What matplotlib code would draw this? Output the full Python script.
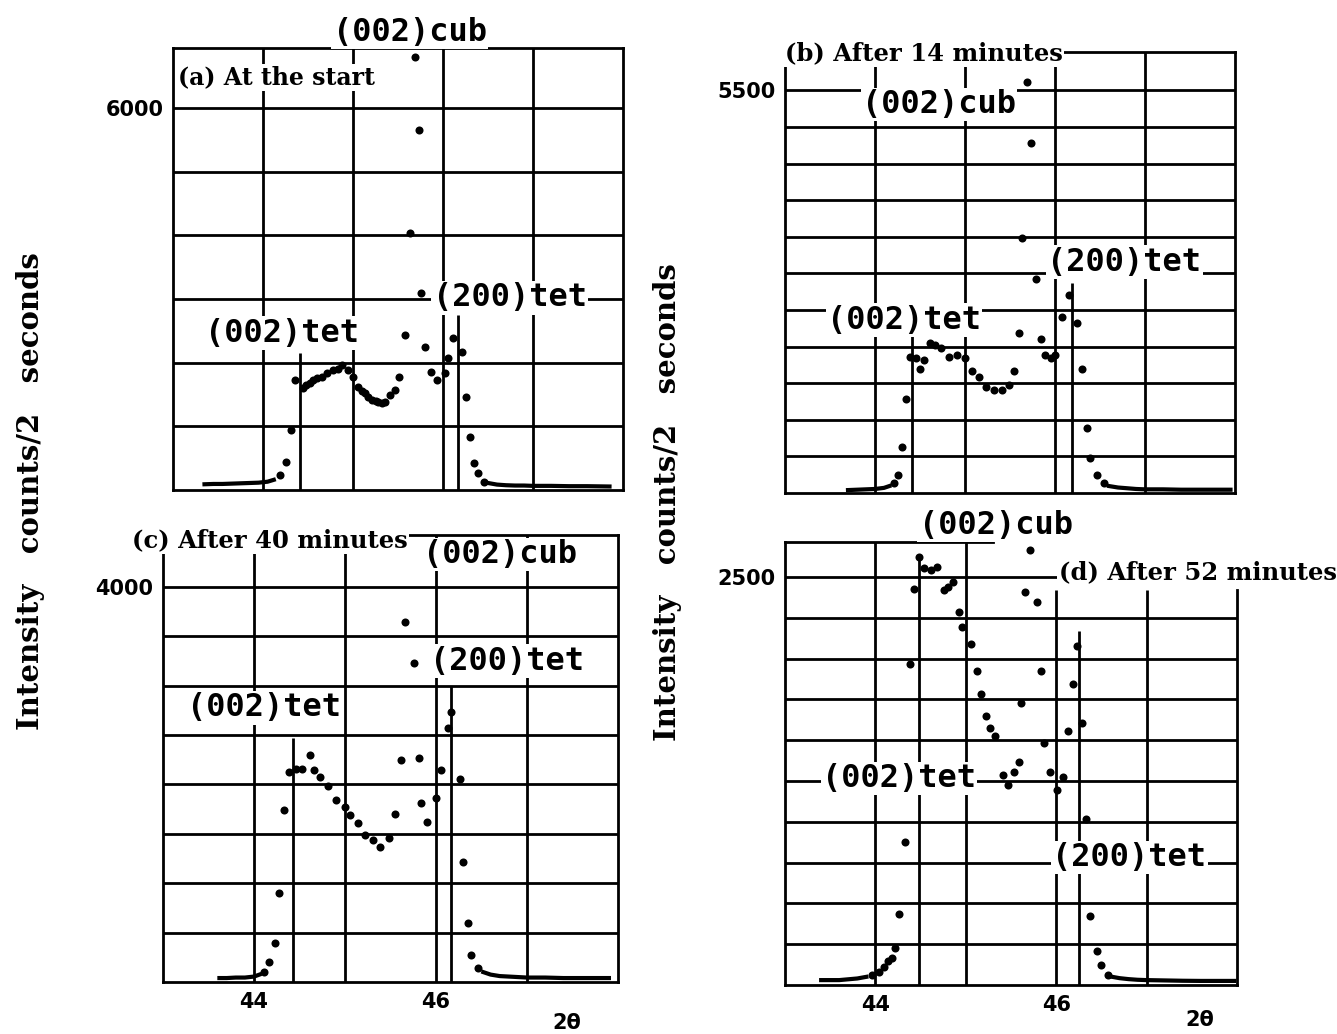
import numpy as np
import matplotlib.pyplot as plt

# ---- data (2theta in degrees, counts / 2 s) ----
# (a) at the start
a_left_x = [43.35, 43.45, 43.55, 43.65, 43.75, 43.85, 43.95, 44.05, 44.12]
a_left_y = [90, 95, 95, 100, 105, 110, 115, 130, 160]
a_peak_x = [44.19, 44.26, 44.31, 44.36, 44.44, 44.48, 44.52, 44.56, 44.60, 44.65,
            44.71, 44.78, 44.83, 44.88, 44.94, 45.00, 45.06, 45.10, 45.13, 45.17,
            45.21, 45.25, 45.28, 45.32, 45.36, 45.41, 45.47, 45.51, 45.58, 45.63,
            45.69, 45.73, 45.76, 45.80, 45.87, 45.93, 46.02, 46.06, 46.11, 46.21,
            46.25, 46.30, 46.34, 46.39, 46.45]
a_peak_y = [235, 440, 940, 1730, 1600, 1650, 1680, 1720, 1760, 1780,
            1840, 1880, 1900, 1960, 1880, 1780, 1620, 1560, 1520, 1460,
            1410, 1390, 1380, 1370, 1380, 1490, 1570, 1780, 2430, 4030,
            6800, 5650, 3090, 2250, 1860, 1730, 1830, 2070, 2380, 2170,
            1460, 840, 420, 260, 130]
a_right_x = [46.50, 46.60, 46.70, 46.80, 46.90, 47.00, 47.20, 47.40, 47.60, 47.85]
a_right_y = [110, 85, 75, 70, 70, 65, 65, 60, 60, 55]

# (b) after 14 minutes
b_left_x = [43.70, 43.80, 43.90, 44.00, 44.10, 44.16]
b_left_y = [40, 45, 50, 55, 70, 95]
b_peak_x = [44.21, 44.26, 44.30, 44.34, 44.39, 44.46, 44.50, 44.54, 44.61, 44.67,
            44.73, 44.82, 44.91, 45.00, 45.08, 45.15, 45.23, 45.32, 45.41, 45.49,
            45.54, 45.60, 45.63, 45.69, 45.73, 45.79, 45.84, 45.89, 45.95, 46.00,
            46.08, 46.15, 46.24, 46.30, 46.36, 46.39, 46.47, 46.54]
b_peak_y = [130, 245, 630, 1290, 1860, 1840, 1700, 1820, 2045, 2020,
            1980, 1860, 1885, 1840, 1660, 1590, 1450, 1410, 1410, 1475,
            1660, 2180, 3480, 5620, 4780, 2930, 2110, 1885, 1840, 1885,
            2410, 2700, 2320, 1700, 885, 475, 245, 130]
b_right_x = [46.60, 46.70, 46.80, 46.90, 47.00, 47.20, 47.40, 47.60, 47.95]
b_right_y = [95, 75, 65, 55, 50, 50, 45, 45, 45]

# (c) after 40 minutes
c_left_x = [43.62, 43.70, 43.80, 43.90, 44.00, 44.06]
c_left_y = [40, 40, 45, 45, 55, 75]
c_peak_x = [44.11, 44.17, 44.23, 44.27, 44.33, 44.39, 44.46, 44.53, 44.61, 44.66,
            44.72, 44.81, 44.90, 45.00, 45.05, 45.14, 45.22, 45.31, 45.39, 45.48,
            45.55, 45.61, 45.66, 45.76, 45.81, 45.84, 45.90, 46.00, 46.05, 46.13,
            46.16, 46.26, 46.30, 46.35, 46.39, 46.46]
c_peak_y = [105, 205, 390, 900, 1740, 2130, 2160, 2160, 2300, 2150,
            2080, 1980, 1840, 1775, 1690, 1605, 1490, 1440, 1370, 1455,
            1705, 2250, 3650, 3225, 2265, 1810, 1625, 1860, 2145, 2570,
            2735, 2060, 1220, 595, 275, 140]
c_right_x = [46.52, 46.60, 46.70, 46.80, 46.90, 47.00, 47.20, 47.40, 47.60, 47.90]
c_right_y = [100, 75, 60, 55, 50, 45, 45, 40, 40, 40]

# (d) after 52 minutes
d_left_x = [43.40, 43.50, 43.60, 43.70, 43.80, 43.90]
d_left_y = [30, 30, 30, 35, 40, 50]
d_peak_x = [43.96, 44.04, 44.10, 44.14, 44.18, 44.22, 44.26, 44.33, 44.38, 44.43,
            44.48, 44.54, 44.62, 44.68, 44.76, 44.80, 44.86, 44.92, 44.96, 45.06,
            45.12, 45.17, 45.22, 45.27, 45.32, 45.41, 45.47, 45.53, 45.59, 45.61,
            45.65, 45.71, 45.79, 45.83, 45.87, 45.93, 46.01, 46.07, 46.13, 46.19,
            46.23, 46.29, 46.33, 46.37, 46.45, 46.50, 46.57]
d_peak_y = [62, 82, 113, 144, 165, 226, 432, 875, 1965, 2428,
            2624, 2552, 2542, 2562, 2418, 2439, 2470, 2284, 2192, 2089,
            1924, 1780, 1646, 1574, 1523, 1286, 1224, 1307, 1369, 1729,
            2408, 2665, 2346, 1924, 1482, 1307, 1194, 1276, 1554, 1842,
            2079, 1605, 1019, 422, 206, 123, 62]
d_right_x = [46.62, 46.70, 46.80, 46.90, 47.00, 47.20, 47.40, 47.60, 47.80, 47.97]
d_right_y = [50, 42, 36, 32, 30, 28, 26, 25, 25, 25]

# peak marker lines: (002)tet and (200)tet positions and heights
a_marks = [(44.41, 2150), (46.17, 2750)]
b_marks = [(44.41, 2160), (46.19, 2870)]
c_marks = [(44.43, 2470), (46.17, 3000)]
d_marks = [(44.48, 2624), (46.25, 2171)]

W, H = 1337, 1034
fig = plt.figure(figsize=(W / 100, H / 100), dpi=100)

LW = 2.0
lab_font = dict(family='DejaVu Sans Mono', weight='bold', fontsize=23)
ttl_font = dict(family='DejaVu Serif', weight='bold', fontsize=17.5)
white = dict(facecolor='white', edgecolor='none', pad=1.0)


def rect(l, r, t, b):
    return [l / W, 1 - b / H, (r - l) / W, (b - t) / H]


def panel(box, ymax, step, ytop, vtops, left, peak, right, marks, xlabels):
    ax = fig.add_axes(rect(*box))
    ax.set_xlim(43, 48)
    ax.set_ylim(0, ymax)
    for gx, gt in zip([44, 45, 46, 47], vtops):
        ax.vlines(gx, 0, gt, color='k', lw=LW, zorder=1)
    ax.hlines(np.arange(step, ytop + step / 2, step), 43, 48, color='k', lw=LW, zorder=1)
    for mx, mt in marks:
        ax.vlines(mx, 0, mt, color='k', lw=LW, zorder=2)
    ax.plot(left[0], left[1], '-', color='k', lw=3, zorder=4)
    ax.plot(right[0], right[1], '-', color='k', lw=3, zorder=4)
    ax.plot(peak[0], peak[1], 'o', color='k', ms=5.8, mec='none', zorder=4)
    for s in ax.spines.values():
        s.set_linewidth(LW)
    ax.set_yticks([ytop])
    ax.set_yticklabels([str(ytop)], fontsize=15, fontweight='bold')
    if xlabels:
        ax.set_xticks([44, 46])
        ax.set_xticklabels(['44', '46'], fontsize=15, fontweight='bold')
    else:
        ax.set_xticks([])
    ax.tick_params(length=0, pad=7)
    return ax


# (a)
ax = panel((173, 623, 48, 490), 6940, 1000, 6000, [6940] * 4,
           (a_left_x, a_left_y), (a_peak_x, a_peak_y), (a_right_x, a_right_y),
           a_marks, False)
ax.text(45.63, 7180, '(002)cub', ha='center', va='center', bbox=white, zorder=6, **lab_font)
ax.text(46.74, 3015, '(200)tet', ha='center', va='center', bbox=white, zorder=6, **lab_font)
ax.text(44.21, 2465, '(002)tet', ha='center', va='center', bbox=white, zorder=6, **lab_font)
ax.text(43.06, 6480, '(a) At the start', ha='left', va='center', bbox=white, zorder=6,
        **dict(ttl_font, fontsize=17))

# (b)
ax = panel((785, 1235, 52, 493), 6025, 500, 5500, [6025] * 4,
           (b_left_x, b_left_y), (b_peak_x, b_peak_y), (b_right_x, b_right_y),
           b_marks, False)
ax.text(44.71, 5310, '(002)cub', ha='center', va='center', bbox=white, zorder=6, **lab_font)
ax.text(46.77, 3155, '(200)tet', ha='center', va='center', bbox=white, zorder=6, **lab_font)
ax.text(44.32, 2360, '(002)tet', ha='center', va='center', bbox=white, zorder=6, **lab_font)
ax.text(43.0, 6010, '(b) After 14 minutes', ha='left', va='center', bbox=white, zorder=6,
        **ttl_font)

# (c)
ax = panel((163, 618, 535, 982), 4526, 500, 4000, [4526] * 4,
           (c_left_x, c_left_y), (c_peak_x, c_peak_y), (c_right_x, c_right_y),
           c_marks, True)
ax.text(46.70, 4330, '(002)cub', ha='center', va='center', bbox=white, zorder=6, **lab_font)
ax.text(46.78, 3250, '(200)tet', ha='center', va='center', bbox=white, zorder=6, **lab_font)
ax.text(44.11, 2775, '(002)tet', ha='center', va='center', bbox=white, zorder=6, **lab_font)
ax.text(42.66, 4470, '(c) After 40 minutes', ha='left', va='center', bbox=white, zorder=6,
        **ttl_font)

# (d)
ax = panel((785, 1237, 542, 985), 2714, 250, 2500, [2714, 2714, 2420, 2420],
           (d_left_x, d_left_y), (d_peak_x, d_peak_y), (d_right_x, d_right_y),
           d_marks, True)
ax.spines['top'].set_bounds(43, 45.3)
ax.spines['right'].set_bounds(0, 2420)
ax.text(45.33, 2815, '(002)cub', ha='center', va='center', bbox=white, zorder=6, **lab_font)
ax.text(46.81, 782, '(200)tet', ha='center', va='center', bbox=white, zorder=6, **lab_font)
ax.text(44.26, 1266, '(002)tet', ha='center', va='center', bbox=white, zorder=6, **lab_font)
ax.text(46.03, 2530, '(d) After 52 minutes', ha='left', va='center', bbox=white, zorder=6,
        **ttl_font)

# shared axis texts
ylab = 'Intensity   counts/2   seconds'
fig.text(31 / W, 1 - 491 / H, ylab, rotation=90, ha='center', va='center',
         family='DejaVu Serif', weight='bold', fontsize=21)
fig.text(668 / W, 1 - 502 / H, ylab, rotation=90, ha='center', va='center',
         family='DejaVu Serif', weight='bold', fontsize=21)
fig.text(567 / W, 1 - 1023 / H, '2θ', ha='center', va='center', fontsize=15, weight='bold')
fig.text(1200 / W, 1 - 1020 / H, '2θ', ha='center', va='center', fontsize=15, weight='bold')

fig.savefig('out.png', dpi=100)
